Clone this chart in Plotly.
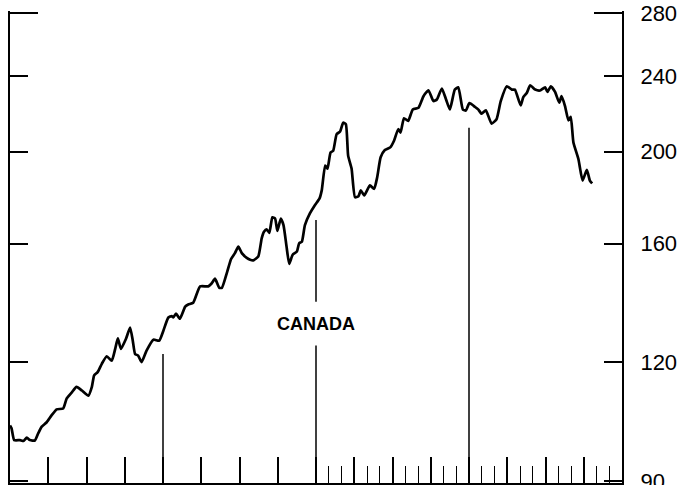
import math
import plotly.graph_objects as go

# time in years from the left edge of the chart
years = [0.00, 0.04, 0.11, 0.26, 0.35, 0.44, 0.52, 0.65, 0.74, 0.83, 0.96, 1.09, 1.22, 1.39, 1.48,
         1.61, 1.74, 1.88, 2.05, 2.14, 2.20, 2.29, 2.40, 2.53, 2.66, 2.75, 2.82, 2.90, 3.03, 3.14,
         3.21, 3.27, 3.35, 3.44, 3.57, 3.75, 3.90, 4.01, 4.14, 4.23, 4.27, 4.34, 4.44, 4.58, 4.66,
         4.79, 4.97, 5.18, 5.27, 5.36, 5.47, 5.54, 5.67, 5.78, 5.88, 5.97, 6.06, 6.19, 6.28, 6.36,
         6.49, 6.58, 6.64, 6.71, 6.78, 6.86, 6.93, 6.99, 7.08, 7.15, 7.23, 7.30, 7.39, 7.50, 7.56,
         7.63, 7.71, 7.84, 7.97, 8.09, 8.15, 8.24, 8.30, 8.38, 8.45, 8.54, 8.63, 8.71, 8.78, 8.84,
         8.93, 9.02, 9.11, 9.17, 9.26, 9.41, 9.52, 9.60, 9.69, 9.80, 9.94, 10.04, 10.15, 10.21, 10.30,
         10.41, 10.53, 10.68, 10.81, 10.94, 11.07, 11.16, 11.29, 11.40, 11.50, 11.63, 11.72, 11.84, 11.92, 12.01,
         12.16, 12.24, 12.33, 12.44, 12.59, 12.72, 12.83, 12.99, 13.12, 13.20, 13.35, 13.42, 13.51, 13.60, 13.73,
         13.86, 13.99, 14.05, 14.14, 14.25, 14.36, 14.42, 14.51, 14.60, 14.66, 14.73, 14.86, 14.97, 15.08, 15.16,
         15.22]

canada = [103.0, 102.3, 99.4, 99.4, 99.2, 100.0, 99.4, 99.3, 101.1, 102.7, 103.8, 105.6, 107.1, 107.3, 109.9,
          111.5, 113.1, 112.1, 110.7, 113.1, 116.3, 117.2, 119.6, 121.8, 120.5, 124.0, 127.2, 124.0, 127.0, 130.6,
          126.5, 122.5, 122.0, 120.1, 123.5, 126.8, 126.5, 129.6, 133.8, 134.3, 133.8, 135.1, 133.4, 137.4, 138.1,
          138.7, 144.3, 144.3, 145.3, 147.0, 143.8, 143.8, 149.1, 154.2, 156.4, 158.9, 156.4, 154.6, 153.9, 153.7,
          155.1, 162.1, 164.7, 165.7, 164.3, 170.6, 170.1, 165.1, 170.1, 167.4, 158.9, 152.4, 155.8, 157.0, 160.2,
          160.8, 167.4, 172.2, 175.7, 178.5, 182.1, 193.4, 191.9, 199.6, 200.5, 208.7, 210.0, 214.6, 213.8, 198.1,
          192.0, 179.1, 179.5, 182.1, 179.9, 184.3, 182.8, 188.0, 197.3, 200.8, 202.1, 205.4, 211.2, 209.5, 216.9,
          215.5, 221.6, 222.5, 228.8, 232.1, 226.1, 227.0, 233.1, 227.0, 221.6, 232.5, 233.8, 221.5, 221.0, 225.0,
          222.9, 221.6, 219.3, 221.1, 214.1, 216.4, 226.1, 234.4, 232.5, 232.5, 223.8, 228.3, 230.6, 234.9, 232.5,
          232.0, 233.8, 231.2, 234.4, 231.2, 225.2, 228.8, 223.4, 215.8, 217.6, 204.5, 196.5, 186.5, 191.4, 186.5,
          185.2]

y_ticks = [90, 120, 160, 200, 240, 280]
y_tick_labels = ["90", "120", "160", "200", "240", "280"]
x_major = list(range(1, 16))
x_minor = [8 + k / 3 for k in range(1, 24) if k % 3 != 0]

# vertical reference lines (year, top value); the one at year 8 is broken by the label
ref_years = [4, 8, 12]
ref_tops = [122.5, 169.5, 212.0]
label_gap = (125.0, 139.0)
label_text = "CANADA"
label_value = 131.8

ref_x, ref_y = [], []
for yr, top in zip(ref_years, ref_tops):
    if yr == 8:
        ref_x += [yr, yr, None, yr, yr, None]
        ref_y += [90, label_gap[0], None, label_gap[1], top, None]
    else:
        ref_x += [yr, yr, None]
        ref_y += [90, top, None]

fig = go.Figure()
fig.add_trace(go.Scatter(x=ref_x, y=ref_y, mode="lines",
                         line=dict(color="black", width=1.5), hoverinfo="skip"))
fig.add_trace(go.Scatter(x=years, y=canada, mode="lines",
                         line=dict(color="black", width=2.7, shape="spline", smoothing=0.5)))

fig.add_annotation(x=8, y=math.log10(label_value), text="<b>" + label_text + "</b>", showarrow=False,
                   font=dict(family="Liberation Sans, Arial, sans-serif", size=18, color="black"),
                   xanchor="center", yanchor="middle")

eps = 0.002
fig.update_layout(
    width=698, height=485,
    margin=dict(l=10, r=76, t=11, b=2, autoexpand=False),
    paper_bgcolor="white", plot_bgcolor="white",
    showlegend=False,
    font=dict(family="Liberation Sans, Arial, sans-serif", color="black"),
)
fig.update_xaxes(range=[0, 16], showgrid=False, zeroline=False, automargin=False,
                 showline=True, linecolor="black", linewidth=2,
                 ticks="inside", tickmode="array", tickvals=x_major, ticklen=26,
                 tickwidth=1.6, tickcolor="black", showticklabels=False,
                 minor=dict(tickmode="array", tickvals=x_minor, ticks="inside",
                            ticklen=17, tickwidth=1.4, tickcolor="black", showgrid=False))
fig.update_yaxes(type="log", range=[math.log10(90) - eps, math.log10(280) + eps], side="right",
                 showgrid=False, zeroline=False, automargin=False,
                 showline=True, linecolor="black", linewidth=2,
                 mirror="ticks", ticks="inside", tickmode="array", tickvals=y_ticks,
                 ticktext=y_tick_labels, ticklen=18, tickwidth=1.6, tickcolor="black",
                 ticklabelstandoff=12, ticklabeloverflow="allow",
                 tickfont=dict(family="Liberation Sans, Arial, sans-serif", size=22, color="black"),
                 minor=dict(tickmode="array", tickvals=[280], ticks="inside", ticklen=28,
                            tickwidth=1.6, tickcolor="black", showgrid=False))

fig.write_html("out.html", config={"displayModeBar": False},
               post_script="document.body.style.margin='0px';")
